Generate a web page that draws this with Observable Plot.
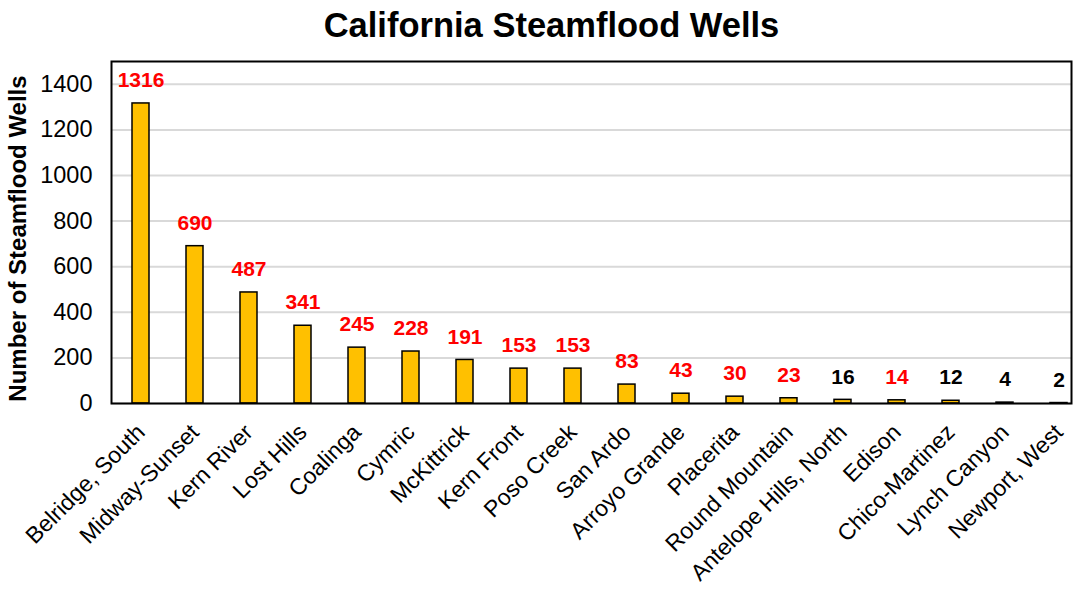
<!DOCTYPE html>
<html>
<head>
<meta charset="utf-8">
<script src="https://cdn.jsdelivr.net/npm/d3@7"></script>
<script src="https://cdn.jsdelivr.net/npm/@observablehq/plot@0.6"></script>
<style>
  body { margin: 0; background: #fff; font-family: "Liberation Sans", Arial, sans-serif; }
  #title { height: 50px; line-height: 50px; text-align: center; font-weight: bold; font-size: 34.5px; padding-left: 30px; width: 1043px; color: #000; }
</style>
</head>
<body>
<div id="title">California Steamflood Wells</div>
<div id="chart"></div>
<script>
const fields = ["Belridge, South", "Midway-Sunset", "Kern River", "Lost Hills", "Coalinga", "Cymric", "McKittrick", "Kern Front", "Poso Creek", "San Ardo", "Arroyo Grande", "Placerita", "Round Mountain", "Antelope Hills, North", "Edison", "Chico-Martinez", "Lynch Canyon", "Newport, West"];
const wells = [1316, 690, 487, 341, 245, 228, 191, 153, 153, 83, 43, 30, 23, 16, 14, 12, 4, 2];
const labelColors = ["red", "red", "red", "red", "red", "red", "red", "red", "red", "red", "red", "red", "red", "black", "red", "black", "black", "black"];
const yTicks = [0, 200, 400, 600, 800, 1000, 1200, 1400];

const data = fields.map((f, i) => ({field: f, wells: wells[i], color: labelColors[i]}));

const chart = Plot.plot({
  width: 1073,
  height: 540,
  marginTop: 11,
  marginBottom: 187,
  marginLeft: 111,
  marginRight: 2,
  style: {fontFamily: "Liberation Sans, Arial, sans-serif", fontSize: "20px", color: "#000", background: "#fff"},
  x: {domain: fields, range: [111, 1088], paddingInner: 0.68, paddingOuter: 0.34, label: null},
  y: {domain: [0, 1500], label: null},
  marks: [
    Plot.gridY(yTicks, {stroke: "#d9d9d9", strokeOpacity: 1, strokeWidth: 2}),
    Plot.axisY(yTicks, {tickSize: 0, tickPadding: 19, fontSize: 23.5, fill: "black", label: null, tickFormat: d => String(d)}),
    Plot.axisX({tickRotate: -45, tickSize: 0, tickPadding: 25, fontSize: 23, fill: "black", label: null}),
    Plot.barY(data, {x: "field", y: "wells", fill: "#FFC000", stroke: "black", strokeWidth: 1.5}),
    Plot.text(data, {x: "field", y: "wells", text: d => String(d.wells), fill: "color", dy: -23, fontWeight: "bold", fontSize: 21}),
    Plot.frame({stroke: "black", strokeWidth: 2}),
    Plot.text(["Number of Steamflood Wells"], {frameAnchor: "left", textAnchor: "middle", dx: -93, dy: 6, rotate: -90, fontWeight: "bold", fontSize: 24, fill: "black"})
  ]
});
document.getElementById("chart").appendChild(chart);
</script>
</body>
</html>
